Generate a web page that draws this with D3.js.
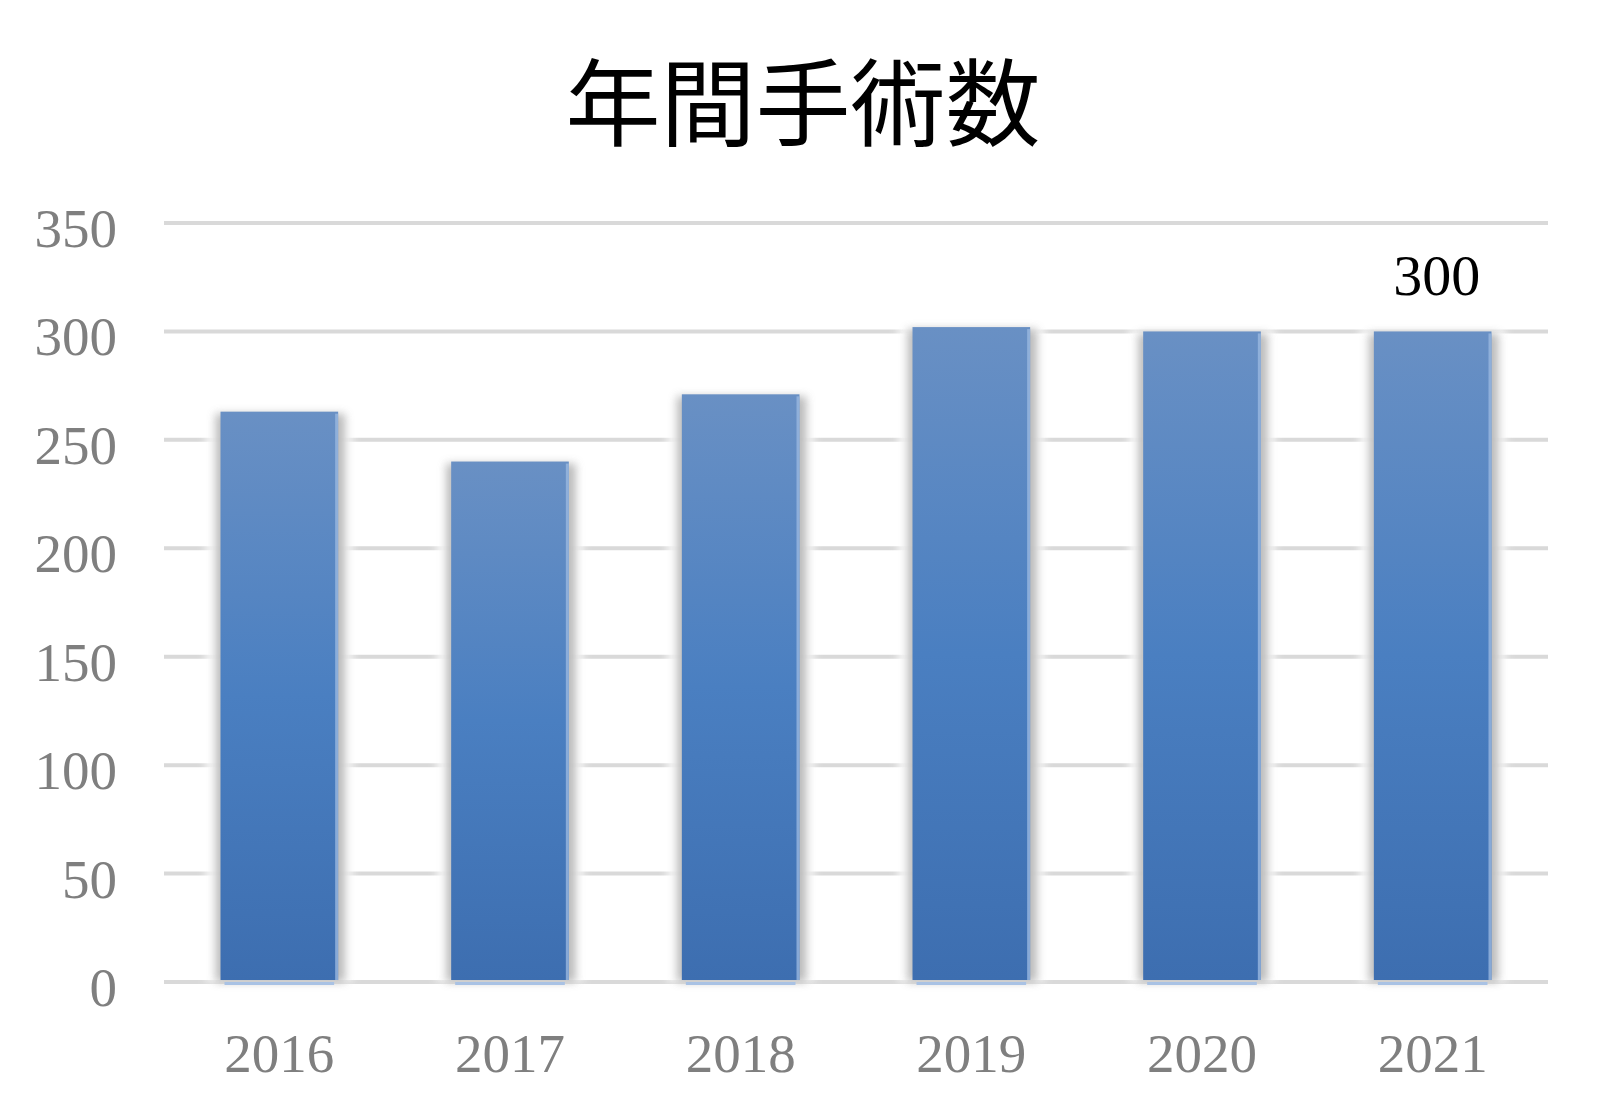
<!DOCTYPE html>
<html>
<head>
<meta charset="utf-8">
<script src="https://cdn.jsdelivr.net/npm/d3@7"></script>
<style>
  html, body { margin: 0; padding: 0; background: #fff; }
</style>
</head>
<body>
<div id="chart"></div>
<script>
// データ
const years = ["2016", "2017", "2018", "2019", "2020", "2021"];
const surgeries = [263, 240, 271, 302, 300, 300];
const yTicks = [0, 50, 100, 150, 200, 250, 300, 350];
const labelledYears = ["2021"];   // 値ラベルを出す年
const chartTitle = "年間手術数";

const width = 1600, height = 1103;
const plot = { left: 164, right: 1548, top: 223, bottom: 982 };
const numFont = "'Liberation Serif', 'DejaVu Serif', serif";

const svg = d3.select("#chart").append("svg")
  .attr("width", width)
  .attr("height", height);

const defs = svg.append("defs");

// 棒のグラデーション（上が明るい）
const grad = defs.append("linearGradient")
  .attr("id", "barGrad")
  .attr("x1", 0).attr("y1", 0).attr("x2", 0).attr("y2", 1);
grad.append("stop").attr("offset", "0%").attr("stop-color", "#6990c4");
grad.append("stop").attr("offset", "50%").attr("stop-color", "#4a7fc1");
grad.append("stop").attr("offset", "100%").attr("stop-color", "#3d6eb0");

// 影のぼかし
defs.append("filter")
  .attr("id", "blur")
  .attr("x", "-20%").attr("y", "-5%").attr("width", "140%").attr("height", "110%")
  .append("feGaussianBlur")
  .attr("stdDeviation", 4);

const x = d3.scaleBand()
  .domain(years)
  .range([plot.left, plot.right])
  .paddingInner(0.49)
  .paddingOuter(0.245);

const y = d3.scaleLinear()
  .domain([0, 350])
  .range([plot.bottom, plot.top]);

// タイトル
svg.append("text")
  .attr("x", 803)
  .attr("y", 139)
  .attr("text-anchor", "middle")
  .attr("font-family", "'Noto Sans CJK JP', sans-serif")
  .attr("font-size", 95)
  .attr("fill", "#000")
  .text(chartTitle);

// 目盛線
svg.append("g")
  .selectAll("line")
  .data(yTicks)
  .enter()
  .append("line")
  .attr("x1", plot.left)
  .attr("x2", plot.right)
  .attr("y1", d => y(d))
  .attr("y2", d => y(d))
  .attr("stroke", "#d9d9d9")
  .attr("stroke-width", 4);

// Y軸ラベル
svg.append("g")
  .selectAll("text")
  .data(yTicks)
  .enter()
  .append("text")
  .attr("x", 117)
  .attr("y", d => y(d) + 24)
  .attr("text-anchor", "end")
  .attr("font-family", numFont)
  .attr("font-size", 55)
  .attr("fill", "#7f7f7f")
  .text(d => d);

// 棒
const bars = svg.append("g")
  .selectAll("g")
  .data(years.map((yr, i) => ({ year: yr, value: surgeries[i] })))
  .enter()
  .append("g");

// 白いにじみ（目盛線を隠す）
bars.append("rect")
  .attr("x", d => x(d.year) - 14)
  .attr("y", d => y(d.value) - 3)
  .attr("width", x.bandwidth() + 28)
  .attr("height", d => plot.bottom - y(d.value) + 3)
  .attr("fill", "#fff")
  .attr("opacity", 0.9)
  .attr("filter", "url(#blur)");

// 灰色の影
bars.append("rect")
  .attr("x", d => x(d.year) - 5)
  .attr("y", d => y(d.value) + 2)
  .attr("width", x.bandwidth() + 12)
  .attr("height", d => plot.bottom - y(d.value) - 2)
  .attr("fill", "#b0b0b0")
  .attr("opacity", 0.85)
  .attr("filter", "url(#blur)");

// 下端の水色の線
bars.append("rect")
  .attr("x", d => x(d.year) + 4)
  .attr("y", plot.bottom)
  .attr("width", x.bandwidth() - 8)
  .attr("height", 3)
  .attr("fill", "#a9c2e4");

bars.append("rect")
  .attr("x", d => x(d.year))
  .attr("y", d => y(d.value))
  .attr("width", x.bandwidth())
  .attr("height", d => plot.bottom - 2 - y(d.value))
  .attr("fill", "url(#barGrad)");

// 右端のハイライト
bars.append("rect")
  .attr("x", d => x(d.year) + x.bandwidth() - 3)
  .attr("y", d => y(d.value) + 2)
  .attr("width", 3)
  .attr("height", d => plot.bottom - 4 - y(d.value))
  .attr("fill", "#9ab8e0")
  .attr("opacity", 0.8);

// X軸ラベル
svg.append("g")
  .selectAll("text")
  .data(years)
  .enter()
  .append("text")
  .attr("x", d => x(d) + x.bandwidth() / 2)
  .attr("y", 1072)
  .attr("text-anchor", "middle")
  .attr("font-family", numFont)
  .attr("font-size", 55)
  .attr("fill", "#7f7f7f")
  .text(d => d);

// 値ラベル
svg.append("g")
  .selectAll("text")
  .data(years.map((yr, i) => ({ year: yr, value: surgeries[i] }))
    .filter(d => labelledYears.includes(d.year)))
  .enter()
  .append("text")
  .attr("x", d => x(d.year) + x.bandwidth() / 2 + 4)
  .attr("y", d => y(d.value) - 36)
  .attr("text-anchor", "middle")
  .attr("font-family", numFont)
  .attr("font-size", 58)
  .attr("fill", "#000")
  .text(d => d.value);
</script>
</body>
</html>
